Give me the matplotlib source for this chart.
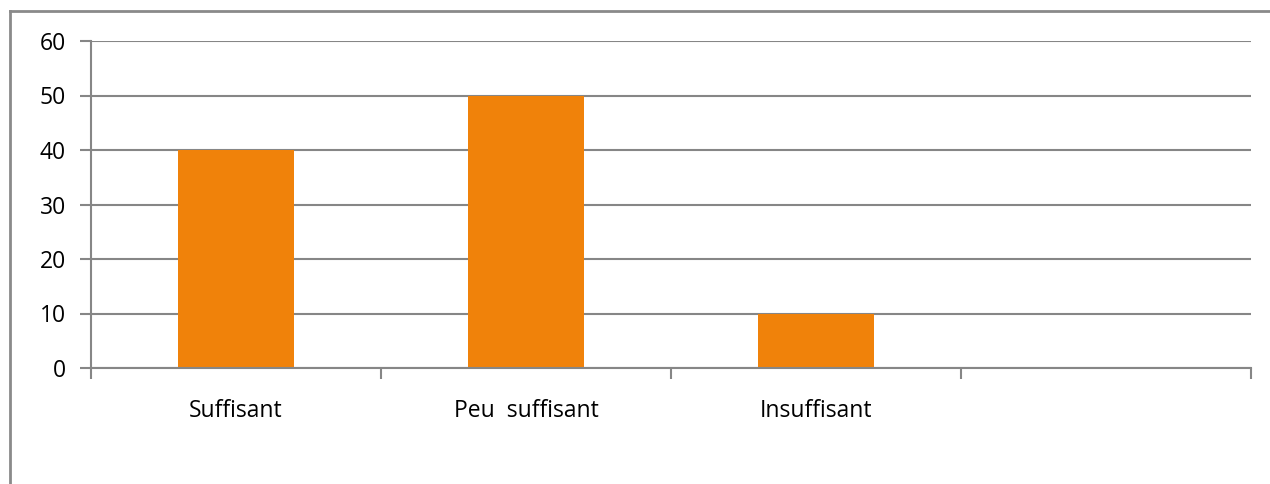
import matplotlib
matplotlib.use("Agg")
import matplotlib.pyplot as plt
from matplotlib.lines import Line2D
from matplotlib.ticker import FixedLocator, NullFormatter

categories = ["Suffisant", "Peu  suffisant", "Insuffisant", ""]
values = [40, 50, 10, 0]
yticks = [0, 10, 20, 30, 40, 50, 60]

W, H = 1270, 484
fig = plt.figure(figsize=(W / 100, H / 100), dpi=100)
plt.rcParams['font.family'] = ['Open Sans', 'DejaVu Sans']

left, right, top, bottom = 91, 1251, 41, 368
ax = fig.add_axes([left / W, 1 - bottom / H, (right - left) / W, (bottom - top) / H])

grid_col = "#868686"
bar_col = "#F0820A"
fs = 16.5

xs = list(range(len(categories)))
bars_x = [x for x, v in zip(xs, values) if v > 0]
bars_v = [v for v in values if v > 0]
ax.bar(bars_x, bars_v, width=0.4, color=bar_col, zorder=3)

ax.set_xlim(-0.5, len(categories) - 0.5)
ax.set_ylim(0, 60)
ax.set_yticks(yticks)
ax.set_yticklabels([str(t) for t in yticks], fontsize=fs, color="black")
ax.yaxis.grid(True, color=grid_col, linewidth=1.5, zorder=0)
ax.set_axisbelow(True)

ax.set_xticks(xs)
ax.set_xticklabels(categories, fontsize=fs, color="black")
ax.xaxis.set_minor_locator(FixedLocator([i - 0.5 for i in range(len(categories) + 1)]))
ax.xaxis.set_minor_formatter(NullFormatter())
ax.tick_params(axis='x', which='major', length=0, pad=22.5)
ax.tick_params(axis='x', which='minor', length=8, width=1.5, color=grid_col, direction='out')
ax.tick_params(axis='y', length=8, width=1.5, color=grid_col, pad=10)

for s in ['top', 'right']:
    ax.spines[s].set_visible(False)
for s in ['left', 'bottom']:
    ax.spines[s].set_color(grid_col)
    ax.spines[s].set_linewidth(1.5)
    ax.spines[s].set_zorder(4)

# outer frame (top and left visible)
fig.add_artist(Line2D([10 / W, 1.0], [1 - 11 / H, 1 - 11 / H], transform=fig.transFigure,
                      color="#8a8a8a", linewidth=2))
fig.add_artist(Line2D([10 / W, 10 / W], [0, 1 - 11 / H], transform=fig.transFigure,
                      color="#8a8a8a", linewidth=2))

fig.savefig("out.png", dpi=100, facecolor="white")
